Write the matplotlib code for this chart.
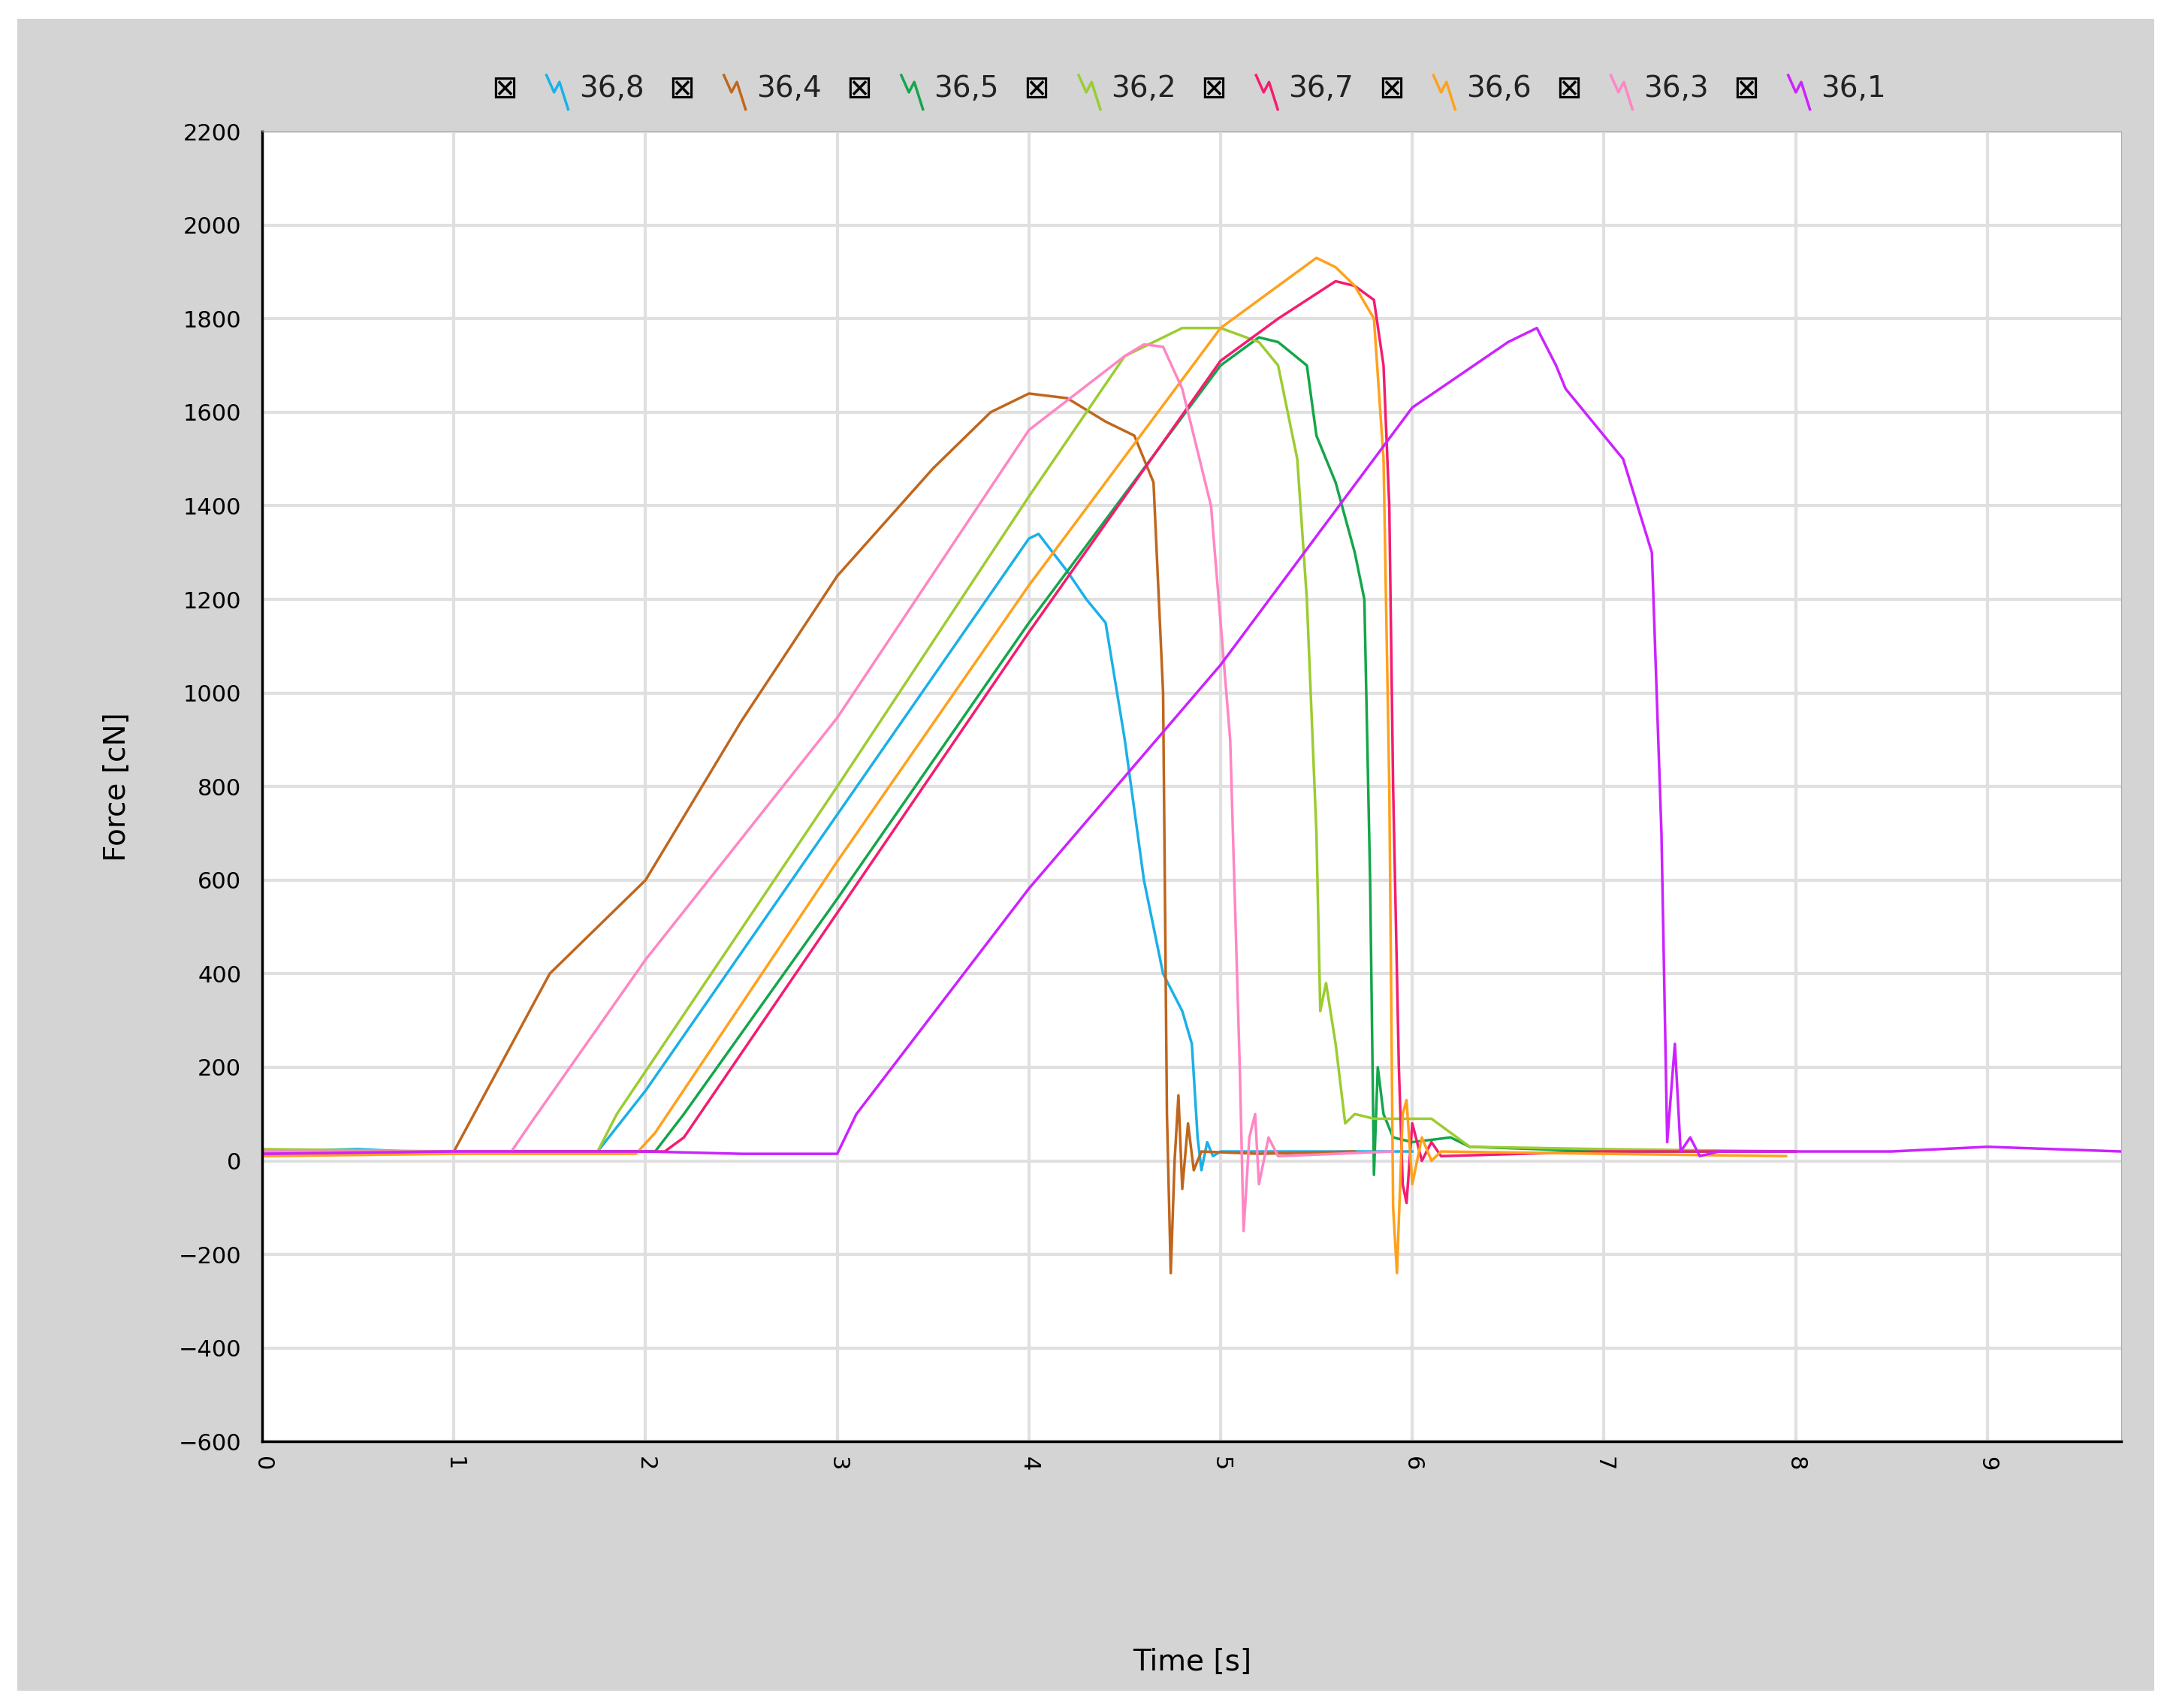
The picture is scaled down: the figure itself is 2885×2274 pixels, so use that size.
import matplotlib
matplotlib.use("Agg")
import matplotlib.pyplot as plt
from matplotlib.lines import Line2D
from matplotlib.patches import Rectangle

# series data (time [s], force [cN])
t_368 = [0, 0.5, 1.0, 1.5, 1.75, 2.0, 3.0, 4.0, 4.05, 4.2, 4.3, 4.4, 4.5, 4.6, 4.7, 4.8, 4.85, 4.88, 4.9, 4.93, 4.96, 5.0, 5.5, 6.0]
f_368 = [20, 25, 15, 20, 20, 150, 740, 1330, 1340, 1260, 1200, 1150, 900, 600, 400, 320, 250, 50, -20, 40, 10, 20, 20, 20]

t_364 = [0, 0.5, 1.0, 1.5, 2.0, 2.5, 3.0, 3.5, 3.8, 4.0, 4.2, 4.4, 4.55, 4.65, 4.7, 4.72, 4.74, 4.76, 4.78, 4.8, 4.83, 4.86, 4.9, 5.2, 5.7]
f_364 = [20, 15, 20, 400, 600, 940, 1250, 1480, 1600, 1640, 1630, 1580, 1550, 1450, 1000, 100, -240, 0, 140, -60, 80, -20, 20, 15, 20]

t_365 = [0, 1.0, 2.05, 2.2, 3.0, 4.0, 5.0, 5.2, 5.3, 5.45, 5.5, 5.6, 5.7, 5.75, 5.78, 5.8, 5.82, 5.85, 5.9, 6.0, 6.2, 6.3, 7.0, 8.0]
f_365 = [15, 20, 20, 100, 560, 1150, 1700, 1760, 1750, 1700, 1550, 1450, 1300, 1200, 600, -30, 200, 100, 50, 40, 50, 30, 20, 20]

t_362 = [0, 1.0, 1.75, 1.85, 3.0, 4.0, 4.5, 4.8, 5.0, 5.2, 5.3, 5.4, 5.45, 5.5, 5.52, 5.55, 5.6, 5.65, 5.7, 5.8, 6.0, 6.1, 6.2, 6.3, 7.0, 8.0]
f_362 = [25, 20, 20, 100, 800, 1420, 1720, 1780, 1780, 1750, 1700, 1500, 1200, 700, 320, 380, 250, 80, 100, 90, 90, 90, 60, 30, 25, 20]

t_367 = [0, 1.0, 2.1, 2.2, 3.0, 4.0, 5.0, 5.3, 5.6, 5.7, 5.8, 5.85, 5.88, 5.9, 5.93, 5.95, 5.97, 6.0, 6.05, 6.1, 6.15, 7.0, 8.0]
f_367 = [15, 20, 20, 50, 530, 1130, 1710, 1800, 1880, 1870, 1840, 1700, 1400, 800, 200, -50, -90, 80, 0, 40, 10, 20, 20]

t_366 = [0, 1.0, 1.95, 2.05, 3.0, 4.0, 5.0, 5.5, 5.6, 5.7, 5.8, 5.85, 5.88, 5.9, 5.92, 5.95, 5.97, 6.0, 6.05, 6.1, 6.15, 7.0, 7.95]
f_366 = [10, 15, 15, 60, 640, 1230, 1780, 1930, 1910, 1870, 1800, 1500, 800, -100, -240, 100, 130, -50, 50, 0, 20, 15, 10]

t_363 = [0, 1.0, 1.3, 1.4, 2.0, 3.0, 4.0, 4.5, 4.6, 4.7, 4.8, 4.95, 5.05, 5.1, 5.12, 5.15, 5.18, 5.2, 5.25, 5.3, 5.9]
f_363 = [20, 20, 20, 80, 430, 947, 1562, 1720, 1745, 1740, 1650, 1400, 900, 200, -150, 50, 100, -50, 50, 10, 20]

t_361 = [0, 1.0, 2.0, 2.5, 3.0, 3.1, 4.0, 5.0, 6.0, 6.5, 6.65, 6.75, 6.8, 6.9, 7.1, 7.25, 7.3, 7.33, 7.37, 7.4, 7.45, 7.5, 7.6, 8.5, 9.0, 9.7]
f_361 = [15, 20, 20, 15, 15, 100, 582, 1060, 1610, 1750, 1780, 1700, 1650, 1600, 1500, 1300, 700, 40, 250, 20, 50, 10, 20, 20, 30, 20]

labels = ["36,8", "36,4", "36,5", "36,2", "36,7", "36,6", "36,3", "36,1"]
colors = ["#1ab0e8", "#c0661c", "#14a64a", "#9ccc30", "#f41c70", "#ffa11c", "#ff86c4", "#cc22ff"]
series = [(t_368, f_368), (t_364, f_364), (t_365, f_365), (t_362, f_362),
          (t_367, f_367), (t_366, f_366), (t_363, f_363), (t_361, f_361)]

fig = plt.figure(figsize=(28.85, 22.74), dpi=100)
fig.patch.set_facecolor("white")
fig.patches.append(Rectangle((0.008, 0.01), 0.986, 0.979, transform=fig.transFigure,
                             facecolor="#d4d4d4", edgecolor="none", zorder=-10))

ax = fig.add_axes([0.121, 0.156, 0.858, 0.767])
ax.set_facecolor("white")
for (t, f), c in zip(series, colors):
    ax.plot(t, f, color=c, linewidth=2.5)

ax.set_xlim(0, 9.7)
ax.set_ylim(-600, 2200)
ax.set_xticks(range(0, 10))
ax.set_yticks(range(-600, 2201, 200))
ax.grid(True, color="#e0e0e0", linewidth=3)
ax.set_axisbelow(True)
ax.tick_params(axis="x", labelrotation=-90, labelsize=22, length=0, pad=14)
ax.tick_params(axis="y", labelsize=22, length=0, pad=20)
for s in ["top", "right"]:
    ax.spines[s].set_color("#aaaaaa")
for s in ["left", "bottom"]:
    ax.spines[s].set_color("black")
    ax.spines[s].set_linewidth(2.5)
ax.set_xlabel("Time [s]", fontsize=28, labelpad=170)
ax.set_ylabel("Force [cN]", fontsize=28, labelpad=45)

# legend drawn by hand: checkbox, zigzag icon, label
y0 = 1 - 64 / 1230
for i, (lab, c) in enumerate(zip(labels, colors)):
    x = (363 + i * 127.7) / 1560
    fig.text(x, y0, "\u22a0", fontsize=30, ha="center", va="center", color="black")
    xs = [x + 0.0195, x + 0.023, x + 0.0255, x + 0.0295]
    ys = [y0 + 0.008, y0 - 0.002, y0 + 0.004, y0 - 0.012]
    fig.add_artist(Line2D(xs, ys, transform=fig.transFigure, color=c, linewidth=2.5))
    fig.text(x + 0.0345, y0, lab, fontsize=28, ha="left", va="center", color="#222222")

fig.savefig("out.png", dpi=100)
